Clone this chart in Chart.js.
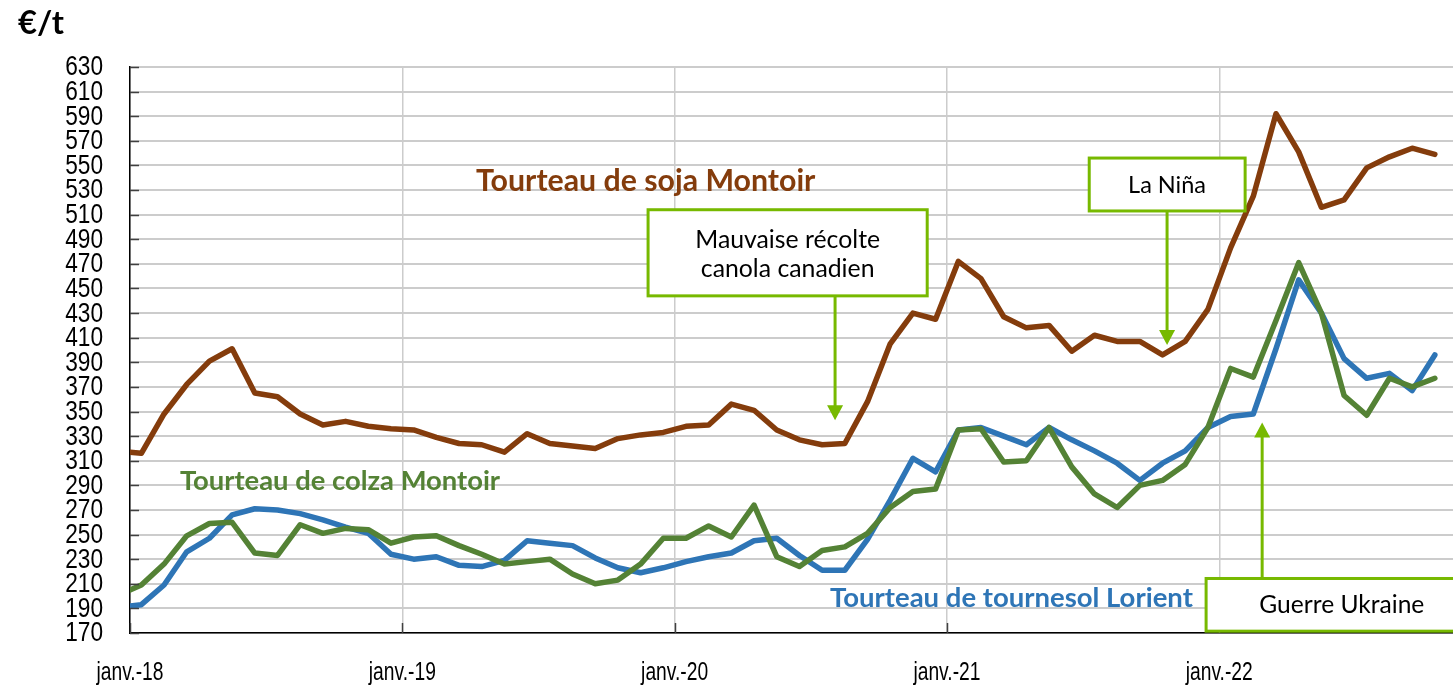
<!DOCTYPE html>
<html>
<head>
<meta charset="utf-8">
<script src="https://cdn.jsdelivr.net/npm/chart.js@4/dist/chart.umd.min.js"></script>
<style>
  body { margin: 0; background: #fff; }
  canvas { display: block; }
</style>
</head>
<body>
<canvas id="prix-tourteaux" width="1453" height="685"></canvas>
<script>
// Prix mensuels des tourteaux (€/t), janv. 2018 -> oct. 2022
// x = mois depuis janv.-18 (1er point au 1er janvier, puis milieu de mois)
var months = [0].concat(Array.from({ length: 58 }, function (_, i) { return i + 0.5; }));
var tickMonths = [0, 12, 24, 36, 48];
var tickLabels = ['janv.-18', 'janv.-19', 'janv.-20', 'janv.-21', 'janv.-22'];

var soja = [317, 316, 348, 372, 391, 401, 365, 362, 348, 339,
            342, 338, 336, 335, 329, 324, 323, 317, 332, 324,
            322, 320, 328, 331, 333, 338, 339, 356, 351, 335,
            327, 323, 324, 358, 405, 430, 425, 472, 458, 427,
            418, 420, 399, 412, 407, 407, 396, 407, 433, 483,
            525, 592, 561, 516, 522, 548, 557, 564, 559];
var colza = [205, 209, 226, 249, 259, 260, 235, 233, 258, 251,
             255, 254, 243, 248, 249, 241, 234, 226, 228, 230,
             218, 210, 213, 226, 247, 247, 257, 248, 274, 232,
             224, 237, 240, 251, 272, 285, 287, 335, 336, 309,
             310, 337, 305, 283, 272, 290, 294, 307, 337, 385,
             378, 424, 471, 430, 363, 347, 377, 370, 377];
var tournesol = [192, 193, 209, 236, 247, 266, 271, 270, 267, 262,
                 256, 251, 234, 230, 232, 225, 224, 229, 245, 243,
                 241, 231, 223, 219, 223, 228, 232, 235, 245, 247,
                 233, 221, 221, 246, 278, 312, 301, 335, 337, 330,
                 323, 337, 327, 318, 308, 294, 308, 318, 337, 346,
                 348, 401, 457, 430, 393, 377, 381, 367, 396];

var brown = '#843C0C', green = '#548235', blue = '#2E75B6', lime = '#77B900';
var tickFont = "'Liberation Sans', Arial, sans-serif";
var textFont = "Lato, 'Open Sans', sans-serif";

function pts(vals) {
  return vals.map(function (v, i) { return { x: months[i], y: v }; });
}

// libellés des séries (position en unités des axes)
var seriesLabels = [
  { text: 'Tourteau de soja Montoir', color: brown, m: 15.25, v: 537, w: 339 },
  { text: 'Tourteau de colza Montoir', color: green, m: 2.2, v: 293, w: 320 },
  { text: 'Tourteau de tournesol Lorient', color: blue, m: 30.85, v: 198, w: 363 }
];

// encadrés + flèches
var notes = [
  { lines: ['Mauvaise récolte', 'canola canadien'], widths: [185, 174],
    box: [22.83, 35.13, 514, 444], tx: 28.98, ty: [489.5, 466],
    arrow: { m: 31.07, from: 444, to: 343 } },
  { lines: ['La Niña'], widths: [78],
    box: [42.27, 49.14, 556, 513], tx: 45.7, ty: [534],
    arrow: { m: 45.7, from: 513, to: 404 } },
  { lines: ['Guerre Ukraine'], widths: [165],
    box: [47.42, 58.8, 214.3, 171.5], tx: 53.4, ty: [193],
    arrow: { m: 49.89, from: 214.3, to: 341 } }
];

function fitFont(ctx, text, weight, family, width) {
  ctx.font = weight + ' 100px ' + family;
  var s = 100 * width / ctx.measureText(text).width;
  ctx.font = weight + ' ' + s.toFixed(1) + 'px ' + family;
}

// texte un peu condensé (police étroite du modèle)
function narrowText(ctx, text, px, py, sx) {
  ctx.save();
  ctx.translate(px, py);
  ctx.scale(sx, 1);
  ctx.fillText(text, 0, 0);
  ctx.restore();
}

var annotations = {
  id: 'annotations',
  afterDatasetsDraw: function (chart) {
    var ctx = chart.ctx, x = chart.scales.x, y = chart.scales.y, area = chart.chartArea;
    ctx.save();

    // petites graduations vers l'intérieur
    ctx.strokeStyle = '#404040';
    ctx.lineWidth = 1.5;
    y.ticks.forEach(function (t) {
      var py = Math.round(y.getPixelForValue(t.value)) + 0.5;
      ctx.beginPath(); ctx.moveTo(area.left, py); ctx.lineTo(area.left + 9, py); ctx.stroke();
    });
    tickMonths.forEach(function (m) {
      var px = Math.round(x.getPixelForValue(m)) + 0.5;
      ctx.beginPath(); ctx.moveTo(px, area.bottom); ctx.lineTo(px, area.bottom - 10); ctx.stroke();
    });

    // étiquettes des axes
    ctx.fillStyle = '#000';
    ctx.font = '27px ' + tickFont;
    ctx.textAlign = 'right';
    ctx.textBaseline = 'middle';
    y.ticks.forEach(function (t) {
      narrowText(ctx, String(t.value), area.left - 27, y.getPixelForValue(t.value) + 1, 0.84);
    });
    ctx.font = '26px ' + tickFont;
    ctx.textAlign = 'center';
    ctx.textBaseline = 'alphabetic';
    tickMonths.forEach(function (m, i) {
      narrowText(ctx, tickLabels[i], x.getPixelForValue(m), 680, 0.74);
    });

    // libellés des séries
    ctx.textBaseline = 'middle';
    ctx.textAlign = 'left';
    seriesLabels.forEach(function (l) {
      fitFont(ctx, l.text, 'bold', textFont, l.w);
      ctx.fillStyle = l.color;
      ctx.fillText(l.text, x.getPixelForValue(l.m), y.getPixelForValue(l.v));
    });

    // encadrés
    notes.forEach(function (n) {
      var x0 = x.getPixelForValue(n.box[0]), x1 = x.getPixelForValue(n.box[1]);
      var y0 = y.getPixelForValue(n.box[2]), y1 = y.getPixelForValue(n.box[3]);
      ctx.fillStyle = '#fff';
      ctx.fillRect(x0, y0, x1 - x0, y1 - y0);
      ctx.strokeStyle = lime;
      ctx.lineWidth = 3;
      ctx.strokeRect(x0, y0, x1 - x0, y1 - y0);

      ctx.fillStyle = '#000';
      ctx.textAlign = 'center';
      n.lines.forEach(function (line, i) {
        fitFont(ctx, line, 'normal', textFont, n.widths[i]);
        ctx.fillText(line, x.getPixelForValue(n.tx), y.getPixelForValue(n.ty[i]));
      });

      var ax = x.getPixelForValue(n.arrow.m);
      var ya = y.getPixelForValue(n.arrow.from), yb = y.getPixelForValue(n.arrow.to);
      var dir = yb > ya ? 1 : -1;
      ctx.strokeStyle = lime;
      ctx.fillStyle = lime;
      ctx.lineWidth = 3;
      ctx.beginPath(); ctx.moveTo(ax, ya); ctx.lineTo(ax, yb - dir * 12); ctx.stroke();
      ctx.beginPath();
      ctx.moveTo(ax, yb);
      ctx.lineTo(ax - 8, yb - dir * 15);
      ctx.lineTo(ax + 8, yb - dir * 15);
      ctx.closePath(); ctx.fill();
    });

    // unité
    ctx.textAlign = 'left';
    ctx.textBaseline = 'alphabetic';
    fitFont(ctx, '€/t', 'bold', textFont, 46);
    ctx.fillStyle = '#000';
    ctx.fillText('€/t', 18, 34);
    ctx.restore();
  }
};

var ctx = document.getElementById('prix-tourteaux').getContext('2d');
var chart = new Chart(ctx, {
  type: 'line',
  data: {
    datasets: [
      { label: 'Tourteau de soja Montoir', data: pts(soja), borderColor: brown },
      { label: 'Tourteau de colza Montoir', data: pts(colza), borderColor: green },
      { label: 'Tourteau de tournesol Lorient', data: pts(tournesol), borderColor: blue }
    ]
  },
  options: {
    responsive: false,
    animation: false,
    layout: { padding: { top: 67, right: 0, bottom: 0, left: 0 } },
    elements: {
      line: { borderWidth: 5.5, tension: 0, borderJoinStyle: 'round', borderCapStyle: 'round' },
      point: { radius: 0 }
    },
    plugins: { legend: { display: false }, tooltip: { enabled: false } },
    scales: {
      x: {
        type: 'linear',
        min: 0,
        max: 58.3,
        afterBuildTicks: function (s) { s.ticks = tickMonths.map(function (v) { return { value: v }; }); },
        afterFit: function (s) { s.height = 52; },
        ticks: { display: false },
        grid: { color: '#cccccc', lineWidth: 1.5, drawTicks: false },
        border: { color: '#000', width: 1.5 }
      },
      y: {
        min: 170,
        max: 630,
        afterFit: function (s) { s.width = 130; },
        ticks: { stepSize: 20, autoSkip: false, display: false },
        grid: { color: '#cccccc', lineWidth: 2, drawTicks: false },
        border: { color: '#000', width: 1.5 }
      }
    }
  },
  plugins: [annotations]
});
</script>
</body>
</html>
